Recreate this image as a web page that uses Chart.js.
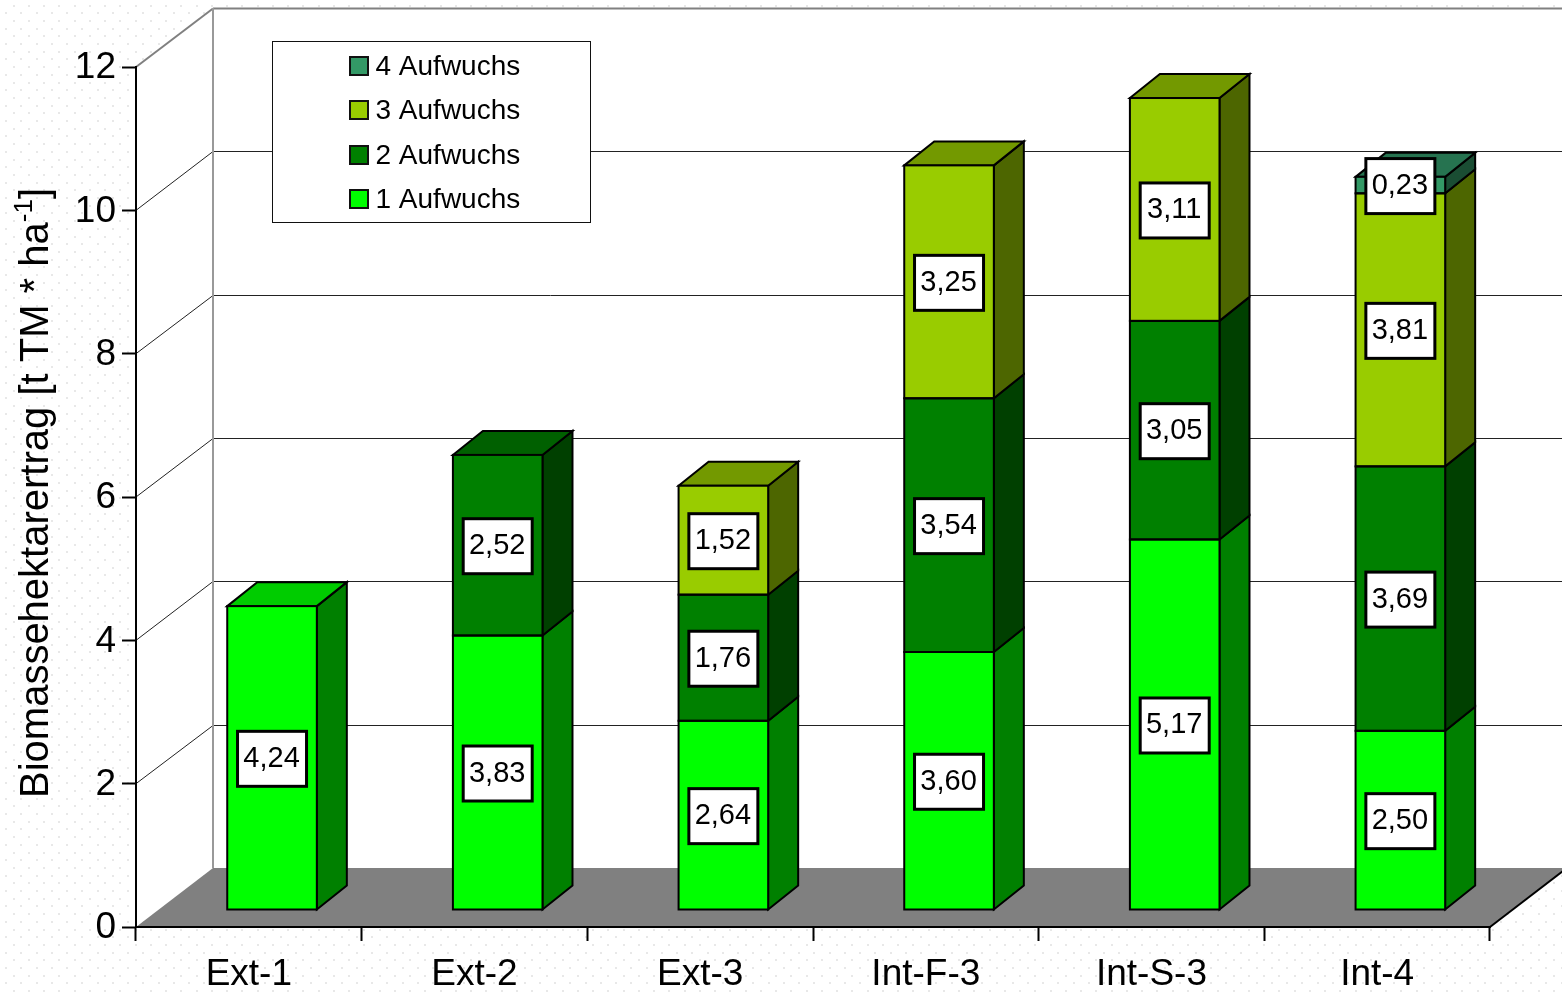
<!DOCTYPE html>
<html lang="de">
<head>
<meta charset="utf-8">
<title>Biomassehektarertrag</title>
<script src="https://cdn.jsdelivr.net/npm/chart.js@4"></script>
<style>
    html, body { margin: 0; padding: 0; background: #fff; overflow: hidden; }
    canvas { display: block; }
</style>
</head>
<body>
<canvas id="yieldChart" width="1562" height="992"></canvas>
<script>
const categories = ['Ext-1', 'Ext-2', 'Ext-3', 'Int-F-3', 'Int-S-3', 'Int-4'];
const aufwuchs1 = [4.24, 3.83, 2.64, 3.60, 5.17, 2.50];
const aufwuchs2 = [null, 2.52, 1.76, 3.54, 3.05, 3.69];
const aufwuchs3 = [null, null, 1.52, 3.25, 3.11, 3.81];
const aufwuchs4 = [null, null, null, null, null, 0.23];
const yTicks = [0, 2, 4, 6, 8, 10, 12];

const FONT = '"Liberation Sans", Arial, sans-serif';

// depth of the box the chart sits in, and of the columns inside it
const wallX = 77, wallY = -59;
const barShiftX = 23.2, barShiftY = -17;
const barDepthX = 30, barDepthY = -24;

function makeSet(label, data, front, side, top) {
    return {
        label, data,
        backgroundColor: front,
        borderWidth: 0,
        sideColor: side,
        topColor: top,
        stack: 'all',
        clip: false
    };
}

function poly(ctx, pts, fill, stroke, lw) {
    ctx.beginPath();
    pts.forEach((p, i) => i ? ctx.lineTo(p[0], p[1]) : ctx.moveTo(p[0], p[1]));
    ctx.closePath();
    if (fill) { ctx.fillStyle = fill; ctx.fill(); }
    if (stroke) { ctx.strokeStyle = stroke; ctx.lineWidth = lw; ctx.stroke(); }
}

function line(ctx, x1, y1, x2, y2, color, lw) {
    ctx.beginPath();
    ctx.moveTo(x1, y1);
    ctx.lineTo(x2, y2);
    ctx.strokeStyle = color;
    ctx.lineWidth = lw;
    ctx.stroke();
}

// dotted page, white walls, grey floor, grid
const boxPlugin = {
    id: 'box',
    beforeDraw(chart) {
        const ctx = chart.ctx, a = chart.chartArea;
        const yScale = chart.scales.y;
        ctx.save();
        ctx.fillStyle = '#fff';
        ctx.fillRect(0, 0, chart.width, chart.height);

        ctx.fillStyle = '#e8e8e8';
        for (let row = 0; row * 7.7 < chart.height; row++) {
            const off = row % 2 ? 5 : 12.6;
            for (let x = off; x < chart.width; x += 15.25) {
                ctx.fillRect(Math.round(x), Math.round(4.5 + row * 7.7), 2, 2);
            }
        }

        poly(ctx, [[a.left, a.top], [a.left + wallX, a.top + wallY], [chart.width + 10, a.top + wallY],
            [chart.width + 10, a.bottom + wallY], [a.left + wallX, a.bottom + wallY], [a.left, a.bottom]], '#fff');

        yTicks.forEach(v => {
            const y = yScale.getPixelForValue(v);
            if (v === 0) return;
            const edge = v === 12;
            const color = edge ? '#808080' : '#222';
            const lw = edge ? 2 : 1;
            const backY = Math.round(y + wallY) + 0.5;
            line(ctx, a.left, y, a.left + wallX, backY, color, lw);
            line(ctx, a.left + wallX, backY, chart.width + 10, backY, color, lw);
        });
        line(ctx, a.left + wallX, a.top + wallY, a.left + wallX, a.bottom + wallY, '#999', 2);

        poly(ctx, [[a.left, a.bottom], [a.left + wallX, a.bottom + wallY], [a.right + wallX, a.bottom + wallY],
            [a.right, a.bottom]], '#808080');
        line(ctx, a.right, a.bottom, a.right + wallX, a.bottom + wallY, '#000', 2);
        ctx.restore();
    },
    afterDraw(chart) {
        drawLegend(chart);
        drawYTitle(chart);
    }
};

function drawLegend(chart) {
    const ctx = chart.ctx;
    const rows = chart.data.datasets.slice().reverse();
    const rowY = [67, 111, 156, 200];
    ctx.save();
    ctx.fillStyle = '#fff';
    ctx.fillRect(273, 41, 318, 181);
    ctx.strokeStyle = '#111';
    ctx.lineWidth = 1;
    ctx.strokeRect(272.5, 41.5, 318, 181);
    ctx.font = '28px ' + FONT;
    ctx.textBaseline = 'middle';
    ctx.textAlign = 'left';
    rows.forEach((set, i) => {
        ctx.fillStyle = set.backgroundColor;
        ctx.fillRect(350, rowY[i] - 10, 18, 18);
        ctx.strokeStyle = '#111';
        ctx.lineWidth = 2;
        ctx.strokeRect(350, rowY[i] - 10, 18, 18);
        ctx.fillStyle = '#000';
        ctx.fillText(set.label, 375.5, rowY[i]);
    });
    ctx.restore();
}

// the exponent in the unit needs its own size, so the title is set by hand
function drawYTitle(chart) {
    const ctx = chart.ctx;
    ctx.save();
    ctx.translate(48, 798);
    ctx.rotate(-Math.PI / 2);
    ctx.fillStyle = '#000';
    ctx.textAlign = 'left';
    ctx.textBaseline = 'alphabetic';
    let x = 0;
    ctx.font = '40px ' + FONT;
    const main = 'Biomassehektarertrag [t TM * ha';
    ctx.fillText(main, x, 0);
    x += ctx.measureText(main).width;
    ctx.font = '26px ' + FONT;
    ctx.fillText('-1', x, -16);
    x += ctx.measureText('-1').width;
    ctx.font = '40px ' + FONT;
    ctx.fillText(']', x, 0);
    ctx.restore();
}

// shifts the columns into the box and adds side, top, outlines and value labels
const columnPlugin = {
    id: 'columns',
    beforeDatasetsDraw(chart) {
        const ctx = chart.ctx;
        ctx.save();
        ctx.translate(barShiftX, barShiftY);
        categories.forEach((c, i) => {
            let topSet = -1;
            chart.data.datasets.forEach((set, s) => { if (set.data[i] !== null) topSet = s; });
            chart.data.datasets.forEach((set, s) => {
                if (set.data[i] === null) return;
                const bar = chart.getDatasetMeta(s).data[i];
                const r = bar.x + bar.width / 2, l = bar.x - bar.width / 2;
                const t = bar.y, b = bar.base;
                poly(ctx, [[r, t], [r + barDepthX, t + barDepthY], [r + barDepthX, b + barDepthY], [r, b]],
                    set.sideColor, '#000', 2);
                if (s === topSet) {
                    poly(ctx, [[l, t], [l + barDepthX, t + barDepthY], [r + barDepthX, t + barDepthY], [r, t]],
                        set.topColor, '#000', 2);
                }
            });
        });
    },
    afterDatasetsDraw(chart) {
        const ctx = chart.ctx;
        chart.data.datasets.forEach((set, s) => {
            set.data.forEach((v, i) => {
                if (v === null) return;
                const bar = chart.getDatasetMeta(s).data[i];
                ctx.strokeStyle = '#000';
                ctx.lineWidth = 2;
                ctx.strokeRect(bar.x - bar.width / 2, bar.y, bar.width, bar.base - bar.y);
            });
        });
        ctx.font = '29px ' + FONT;
        ctx.textAlign = 'center';
        ctx.textBaseline = 'middle';
        chart.data.datasets.forEach((set, s) => {
            set.data.forEach((v, i) => {
                if (v === null) return;
                const bar = chart.getDatasetMeta(s).data[i];
                const cy = (bar.y + bar.base) / 2 + 1;
                ctx.fillStyle = '#fff';
                ctx.fillRect(bar.x - 34.5, cy - 27.5, 69, 55);
                ctx.strokeStyle = '#000';
                ctx.lineWidth = 3;
                ctx.strokeRect(bar.x - 34.5, cy - 27.5, 69, 55);
                ctx.fillStyle = '#000';
                ctx.fillText(v.toFixed(2).replace('.', ','), bar.x - 0.5, cy);
            });
        });
        ctx.restore();
    }
};

new Chart(document.getElementById('yieldChart'), {
    type: 'bar',
    data: {
        labels: categories,
        datasets: [
            makeSet('1 Aufwuchs', aufwuchs1, '#00ff00', '#008000', '#00cc00'),
            makeSet('2 Aufwuchs', aufwuchs2, '#008000', '#004000', '#006000'),
            makeSet('3 Aufwuchs', aufwuchs3, '#99cc00', '#4d6600', '#739900'),
            makeSet('4 Aufwuchs', aufwuchs4, '#339966', '#1a4d33', '#267350')
        ]
    },
    options: {
        responsive: false,
        animation: false,
        devicePixelRatio: 1,
        barPercentage: 0.397,
        categoryPercentage: 1,
        layout: { padding: { top: 67, right: 72, bottom: 0, left: 0 } },
        plugins: {
            legend: { display: false },
            title: { display: false },
            tooltip: { enabled: false }
        },
        scales: {
            x: {
                stacked: true,
                afterFit(scale) { scale.height = 65; },
                border: { color: '#000', width: 2 },
                grid: { drawOnChartArea: false, drawTicks: true, tickLength: 14, tickColor: '#000', tickWidth: 2 },
                ticks: {
                    color: '#000',
                    font: { family: FONT, size: 37 },
                    padding: 12,
                    maxRotation: 0,
                    autoSkip: false
                }
            },
            y: {
                stacked: true,
                min: 0,
                max: 12,
                afterFit(scale) { scale.width = 136; },
                afterBuildTicks(scale) { scale.ticks = yTicks.map(value => ({ value })); },
                border: { color: '#000', width: 2 },
                grid: { drawOnChartArea: false, drawTicks: true, tickLength: 14, tickColor: '#000', tickWidth: 2 },
                ticks: {
                    color: '#000',
                    font: { family: FONT, size: 37 },
                    padding: 6,
                    labelOffset: 1
                }
            }
        }
    },
    plugins: [boxPlugin, columnPlugin]
});
</script>
</body>
</html>
